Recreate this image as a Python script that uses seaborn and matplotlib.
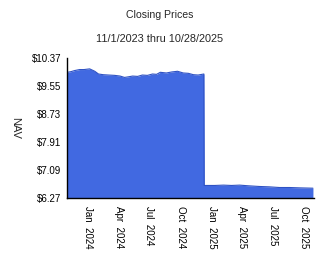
import matplotlib
matplotlib.use("Agg")
import matplotlib.pyplot as plt
import seaborn as sns
import pandas as pd

dates = ["2023-11-01", "2023-11-12", "2023-11-22", "2023-12-07", "2023-12-20",
         "2024-01-06", "2024-01-21", "2024-02-01", "2024-02-15", "2024-03-02",
         "2024-03-20", "2024-04-05", "2024-04-18", "2024-05-01", "2024-05-12",
         "2024-05-27", "2024-06-10", "2024-06-25", "2024-07-10", "2024-07-22",
         "2024-08-02", "2024-08-20", "2024-09-05", "2024-09-22", "2024-10-09",
         "2024-10-24", "2024-11-08", "2024-11-22", "2024-12-09", "2024-12-10",
         "2025-01-10", "2025-02-05", "2025-03-01", "2025-03-25", "2025-04-20",
         "2025-05-23", "2025-06-20", "2025-07-21", "2025-08-20", "2025-09-18",
         "2025-10-28"]
nav = [9.95, 9.97, 10.00, 10.03, 10.03, 10.05, 9.98, 9.90, 9.88, 9.87,
       9.86, 9.84, 9.80, 9.82, 9.84, 9.83, 9.87, 9.86, 9.90, 9.89,
       9.95, 9.93, 9.96, 9.98, 9.93, 9.92, 9.88, 9.87, 9.90, 6.64,
       6.64, 6.65, 6.64, 6.65, 6.63, 6.61, 6.60, 6.58, 6.58, 6.57,
       6.56]
yticks = [6.27, 7.09, 7.91, 8.73, 9.55, 10.37]
xtick_dates = ["2024-01-01", "2024-04-01", "2024-07-01", "2024-10-01",
               "2025-01-01", "2025-04-01", "2025-07-01", "2025-10-01"]
xtick_labels = ["Jan  2024", "Apr  2024", "Jul  2024", "Oct  2024",
                "Jan  2025", "Apr  2025", "Jul  2025", "Oct  2025"]

df = pd.DataFrame({"date": pd.to_datetime(dates), "nav": nav})

sns.set_style("white")
plt.rcParams["font.family"] = ["Liberation Sans", "DejaVu Sans"]

fig = plt.figure(figsize=(3.24, 2.67), dpi=100)
ax = fig.add_axes([0.207, 0.258, 0.762, 0.525])

ax.fill_between(df["date"], yticks[0], df["nav"], color="#4169E1", linewidth=0)
sns.lineplot(data=df, x="date", y="nav", ax=ax, color="#2f52c4", linewidth=0.8)

ax.set_ylim(yticks[0], yticks[-1])
ax.set_xlim(pd.Timestamp("2023-10-31"), pd.Timestamp("2025-10-31"))
ax.set_yticks(yticks)
ax.set_yticklabels([f"${v:.2f}" for v in yticks], fontsize=7)
ax.set_xticks(pd.to_datetime(xtick_dates))
ax.set_xticklabels(xtick_labels, rotation=-90, fontsize=7, va="top", ha="center")
ax.tick_params(axis="y", length=2, width=0.6, pad=2, colors="black")
ax.tick_params(axis="x", length=0, pad=6, colors="black")

for s in ["top", "right"]:
    ax.spines[s].set_visible(False)
for s in ["left", "bottom"]:
    ax.spines[s].set_color("black")
    ax.spines[s].set_linewidth(1.0)

ax.set_xlabel("")
ax.set_ylabel("NAV", rotation=-90, fontsize=8, labelpad=12, va="center")

fig.text(0.494, 0.944, "Closing Prices", ha="center", va="center", fontsize=7.6)
fig.text(0.494, 0.855, "11/1/2023 thru 10/28/2025", ha="center", va="center", fontsize=7.8)

fig.savefig("out.png", dpi=100)
